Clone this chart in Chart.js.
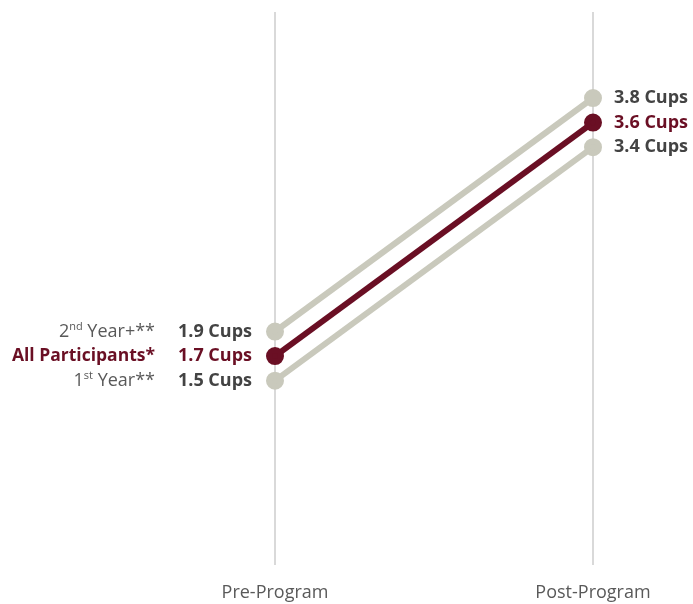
<!DOCTYPE html>
<html lang="en">
<head>
  <meta charset="utf-8">
  <title>Cups Pre vs Post Program</title>
  <script src="https://cdn.jsdelivr.net/npm/chart.js@4.4.0/dist/chart.umd.min.js"></script>
  <style>
    body { margin: 0; background: #fff; }
  </style>
</head>
<body>
  <canvas id="chart" width="693" height="604"></canvas>
  <script>
    // categories and values
    const stages = ['Pre-Program', 'Post-Program'];
    const allParticipants = [1.7, 3.6];
    const secondYear = [1.9, 3.8];
    const firstYear = [1.5, 3.4];

    const maroon = '#6a0f24';
    const gray = '#c9c9bc';
    const textGray = '#595959';
    const valueGray = '#434343';
    const fontFam = '"Open Sans", sans-serif';

    // left-side group names (base, superscript, rest)
    const groupNames = [
      ['All Participants*', '', ''],
      ['2', 'nd', ' Year+**'],
      ['1', 'st', ' Year**']
    ];

    // writes "x.x Cups" beside each point, and group names on the left
    const labelPlugin = {
      id: 'slopeLabels',
      afterDatasetsDraw(chart) {
        const ctx = chart.ctx;
        ctx.save();
        ctx.textBaseline = 'middle';
        chart.data.datasets.forEach((ds, i) => {
          const meta = chart.getDatasetMeta(i);
          const p0 = meta.data[0];
          const p1 = meta.data[1];
          const isMain = i === 0;
          const valColor = isMain ? maroon : valueGray;

          ctx.font = 'bold 18px ' + fontFam;
          ctx.fillStyle = valColor;
          ctx.textAlign = 'right';
          ctx.fillText(ds.data[0].toFixed(1) + ' Cups', p0.x - 23, p0.y);
          ctx.textAlign = 'left';
          ctx.fillText(ds.data[1].toFixed(1) + ' Cups', p1.x + 21, p1.y);

          // group name
          const [base, sup, rest] = groupNames[i];
          const rightX = p0.x - 120;
          ctx.textAlign = 'left';
          if (isMain) {
            ctx.font = 'bold 17.5px ' + fontFam;
            ctx.fillStyle = maroon;
            const w = ctx.measureText(base).width;
            ctx.fillText(base, rightX - w, p0.y);
          } else {
            ctx.fillStyle = textGray;
            ctx.font = '18px ' + fontFam;
            const wb = ctx.measureText(base).width;
            const wr = ctx.measureText(rest).width;
            ctx.font = '11px ' + fontFam;
            const ws = ctx.measureText(sup).width;
            let x = rightX - wb - ws - wr;
            ctx.font = '18px ' + fontFam;
            ctx.fillText(base, x, p0.y);
            x += wb;
            ctx.font = '11px ' + fontFam;
            ctx.fillText(sup, x, p0.y - 5);
            x += ws;
            ctx.font = '18px ' + fontFam;
            ctx.fillText(rest, x, p0.y);
          }
        });
        ctx.restore();
      }
    };

    const ctx = document.getElementById('chart').getContext('2d');
    new Chart(ctx, {
      type: 'line',
      data: {
        labels: stages,
        datasets: [
          {
            label: 'All Participants*',
            data: allParticipants,
            borderColor: maroon,
            backgroundColor: maroon,
            borderWidth: 6,
            pointRadius: 6,
            pointHoverRadius: 6,
            order: 0
          },
          {
            label: '2nd Year+**',
            data: secondYear,
            borderColor: gray,
            backgroundColor: gray,
            borderWidth: 6,
            pointRadius: 6,
            pointHoverRadius: 6,
            order: 1
          },
          {
            label: '1st Year**',
            data: firstYear,
            borderColor: gray,
            backgroundColor: gray,
            borderWidth: 6,
            pointRadius: 6,
            pointHoverRadius: 6,
            order: 2
          }
        ]
      },
      options: {
        responsive: false,
        animation: false,
        layout: { padding: { left: 275, right: 100, top: 9, bottom: 0 } },
        plugins: {
          legend: { display: false },
          tooltip: { enabled: false }
        },
        scales: {
          x: {
            offset: false,
            border: { display: false },
            grid: { color: '#d9d9d9', lineWidth: 2, drawTicks: false },
            ticks: {
              color: textGray,
              padding: 17,
              font: { family: fontFam, size: 18 }
            },
            afterFit(scale) { scale.height = 39; }
          },
          y: {
            display: false,
            min: 0,
            max: 4.5
          }
        }
      },
      plugins: [labelPlugin]
    });
  </script>
</body>
</html>
